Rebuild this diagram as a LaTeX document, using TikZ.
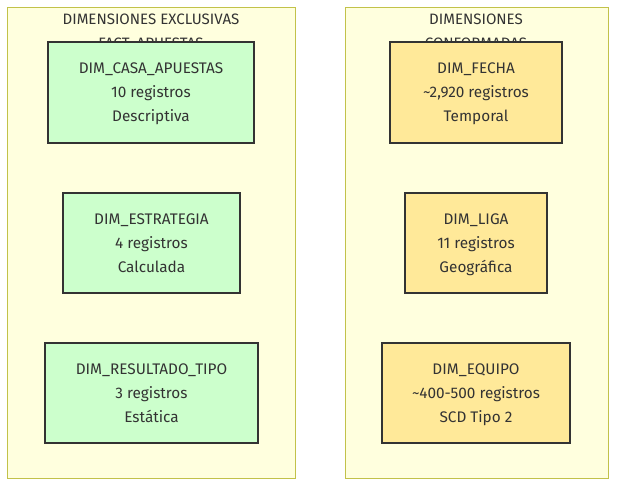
\documentclass[tikz,border=0pt]{standalone}
\usepackage{fontspec}
\setmainfont{Fira Sans}
\definecolor{panelfill}{HTML}{FFFFDE}
\definecolor{panelline}{HTML}{C2C24A}
\definecolor{greenfill}{HTML}{CCFFCC}
\definecolor{yellowfill}{HTML}{FFE999}
\definecolor{txt}{HTML}{333333}
\begin{document}
\begin{tikzpicture}[x=0.75pt,y=-0.75pt,
  panel/.style={draw=panelline,fill=panelfill,line width=0.75pt},
  title/.style={text=txt,font=\fontsize{11.3pt}{18pt}\selectfont,align=center,inner sep=0pt,anchor=north},
  dimbox/.style={draw=txt,line width=1.5pt,text=txt,font=\fontsize{11.5pt}{18pt}\selectfont,align=center,inner sep=0pt,text depth=0pt},
  excl/.style={dimbox,fill=greenfill},
  conf/.style={dimbox,fill=yellowfill}]
\useasboundingbox (0,0) rectangle (624,492);
\fill[white] (0,0) rectangle (624,492);
\draw[panel] (7,8) rectangle (295,478);
\draw[panel] (345,8) rectangle (608,478);
\node[title] (t1) at (151,14) {DIMENSIONES EXCLUSIVAS\\FACT\_APUESTAS};
\node[title] (t2) at (476,14) {DIMENSIONES\\CONFORMADAS};
\node[excl,minimum width=154.5pt,minimum height=75.75pt] (casa) at (151,92.5) {DIM\_CASA\_APUESTAS\\10 registros\\Descriptiva};
\node[excl,minimum width=132.75pt,minimum height=75pt] (estr) at (151.5,243) {DIM\_ESTRATEGIA\\4 registros\\Calculada};
\node[excl,minimum width=159.75pt,minimum height=75pt] (res) at (151.5,393) {DIM\_RESULTADO\_TIPO\\3 registros\\Estática};
\node[conf,minimum width=129pt,minimum height=75.75pt] (fecha) at (476,92.5) {DIM\_FECHA\\\textasciitilde 2,920 registros\\Temporal};
\node[conf,minimum width=106.5pt,minimum height=75pt] (liga) at (476,243) {DIM\_LIGA\\11 registros\\Geográfica};
\node[conf,minimum width=141pt,minimum height=75pt] (equipo) at (476,393) {DIM\_EQUIPO\\\textasciitilde 400-500 registros\\SCD Tipo 2};
\end{tikzpicture}
\end{document}
